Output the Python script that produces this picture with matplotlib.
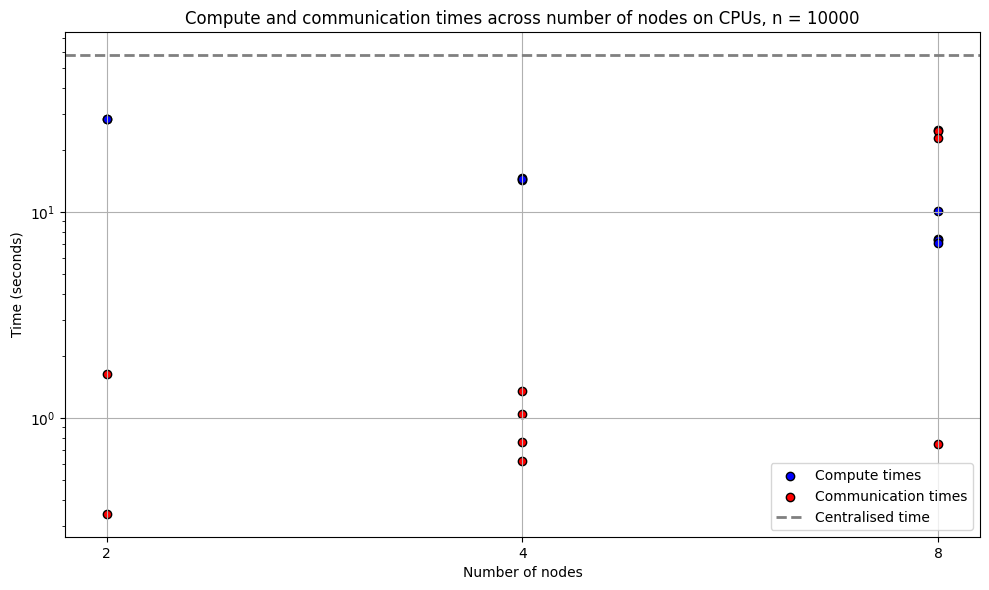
import matplotlib
matplotlib.use("Agg")
import matplotlib.pyplot as plt
from matplotlib.ticker import ScalarFormatter, NullFormatter

# number of nodes for each run
compute_nodes = [2, 2, 4, 4, 4, 8, 8, 8, 8]
compute_times = [28.3, 28.1, 14.3, 14.6, 14.5, 10.1, 7.4, 7.3, 7.1]

comm_nodes = [2, 2, 4, 4, 4, 4, 8, 8, 8, 8]
comm_times = [1.635, 0.342, 1.35, 1.045, 0.765, 0.618, 25.0, 24.6, 22.9, 0.748]

centralised_time = 57.8
node_ticks = [2, 4, 8]


def plot_times():
    fig, ax = plt.subplots(figsize=(9.89, 5.9), dpi=100)
    ax.scatter(compute_nodes, compute_times, color='blue', edgecolor='black', label='Compute times')
    ax.scatter(comm_nodes, comm_times, color='red', edgecolor='black', label='Communication times')
    ax.axhline(centralised_time, color='gray', linestyle='--', linewidth=2, label='Centralised time')

    ax.set_xscale('log', base=2)
    ax.set_yscale('log')
    ax.set_xticks(node_ticks)
    ax.xaxis.set_major_formatter(ScalarFormatter())
    ax.xaxis.set_minor_formatter(NullFormatter())

    ax.set_title('Compute and communication times across number of nodes on CPUs, n = 10000')
    ax.set_xlabel('Number of nodes')
    ax.set_ylabel('Time (seconds)')
    ax.grid(True)
    ax.legend(loc='lower right')
    fig.subplots_adjust(left=0.0657, right=0.9909, top=0.9458, bottom=0.0898)
    plt.savefig('out.png')


if __name__ == "__main__":
    plot_times()
